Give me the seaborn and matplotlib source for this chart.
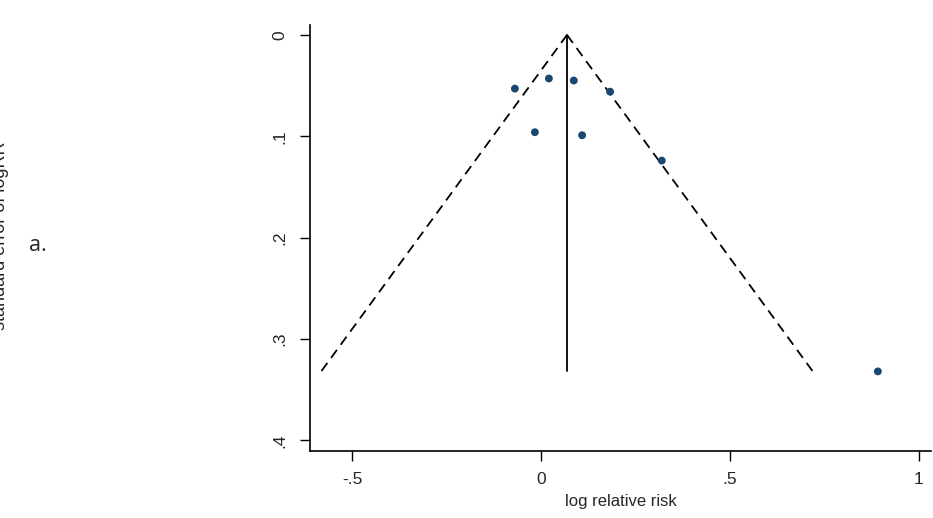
import numpy as np
import pandas as pd
import matplotlib
matplotlib.use("Agg")
import matplotlib.pyplot as plt
import seaborn as sns

# study estimates
log_rr = [-0.069, 0.021, 0.087, 0.183, -0.016, 0.109, 0.320, 0.892]
se_log_rr = [0.053, 0.043, 0.045, 0.056, 0.096, 0.099, 0.124, 0.332]
pooled = 0.069  # fixed-effect pooled log RR (vertical line)

x_ticks = [-0.5, 0, 0.5, 1]
x_tick_labels = ["-.5", "0", ".5", "1"]
y_ticks = [0, 0.1, 0.2, 0.3, 0.4]
y_tick_labels = ["0", ".1", ".2", ".3", ".4"]

df = pd.DataFrame({"logrr": log_rr, "se": se_log_rr})

sns.set_style("white")
plt.rcParams["font.family"] = ["Liberation Sans", "DejaVu Sans"]

fig = plt.figure(figsize=(9.33, 5.18), dpi=100)
ax = fig.add_axes([0.332, 0.129, 0.666, 0.823])

# pseudo 95% confidence limits
se_max = max(se_log_rr)
se_line = np.array([0, se_max])
ax.plot(pooled - 1.96 * se_line, se_line, ls=(0, (5.5, 3.5)), color="black", lw=1.3)
ax.plot(pooled + 1.96 * se_line, se_line, ls=(0, (5.5, 3.5)), color="black", lw=1.3)
ax.plot([pooled, pooled], [0, se_max], color="black", lw=1.3)

sns.scatterplot(data=df, x="logrr", y="se", ax=ax, color="#1a476f",
                s=32, edgecolor="none", zorder=3)

ax.set_xlim(-0.612, 1.033)
ax.set_ylim(0.4107, -0.0099)
ax.set_xticks(x_ticks)
ax.set_xticklabels(x_tick_labels, fontsize=12.5)
ax.set_yticks(y_ticks)
ax.set_yticklabels(y_tick_labels, fontsize=12.5, rotation=90, va="center")
ax.tick_params(axis="both", direction="out", length=7, width=1, color="black",
               left=True, bottom=True)
ax.tick_params(axis="y", pad=9)
ax.tick_params(axis="x", pad=8)
ax.set_xlabel("log relative risk", fontsize=12, labelpad=5)
ax.set_ylabel("")

for side in ["top", "right"]:
    ax.spines[side].set_visible(False)
for side in ["left", "bottom"]:
    ax.spines[side].set_color("black")
    ax.spines[side].set_linewidth(1.2)

# y title is cut off at the left edge in the original
fig.text(0.0005, 0.545, "standard error of logRR", rotation=90,
         ha="center", va="center", fontsize=13)
fig.text(0.031, 0.527, "a.", fontsize=15.5, family=["Open Sans", "DejaVu Sans"],
         va="center")

fig.savefig("out.png", dpi=100)
